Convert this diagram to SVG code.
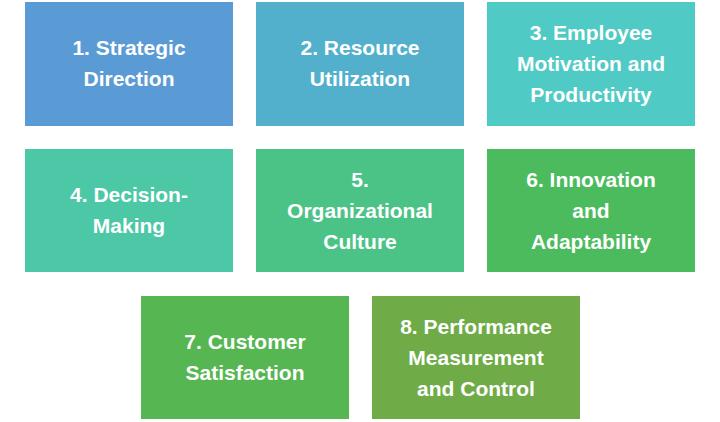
<svg xmlns="http://www.w3.org/2000/svg" width="720" height="422" viewBox="0 0 720 422">
<style>
rect{stroke:none}
text{font-family:"Liberation Sans",Arial,sans-serif;font-weight:bold;font-size:21px;fill:#fff;text-anchor:middle}
</style>
<rect width="720" height="422" fill="#fff"/>
<g id="n1"><rect x="25" y="2" width="208" height="124" fill="#5B9BD5"/><text x="129" y="55">1. Strategic</text><text x="129" y="86">Direction</text></g>
<g id="n2"><rect x="256" y="2" width="208" height="124" fill="#52B0CD"/><text x="360" y="55">2. Resource</text><text x="360" y="86">Utilization</text></g>
<g id="n3"><rect x="487" y="2" width="208" height="124" fill="#4FCAC4"/><text x="591" y="40">3. Employee</text><text x="591" y="71">Motivation and</text><text x="591" y="102">Productivity</text></g>
<g id="n4"><rect x="25" y="149" width="208" height="123" fill="#4DC8A6"/><text x="129" y="202">4. Decision-</text><text x="129" y="233">Making</text></g>
<g id="n5"><rect x="256" y="149" width="208" height="123" fill="#4CC386"/><text x="360" y="187">5.</text><text x="360" y="218">Organizational</text><text x="360" y="249">Culture</text></g>
<g id="n6"><rect x="487" y="149" width="208" height="123" fill="#4BBB5D"/><text x="591" y="187">6. Innovation</text><text x="591" y="218">and</text><text x="591" y="249">Adaptability</text></g>
<g id="n7"><rect x="141" y="296" width="208" height="123" fill="#55B652"/><text x="245" y="349">7. Customer</text><text x="245" y="380">Satisfaction</text></g>
<g id="n8"><rect x="372" y="296" width="208" height="123" fill="#6FAC47"/><text x="476" y="334">8. Performance</text><text x="476" y="365">Measurement</text><text x="476" y="396">and Control</text></g>
<g id="connectors"/>
</svg>
